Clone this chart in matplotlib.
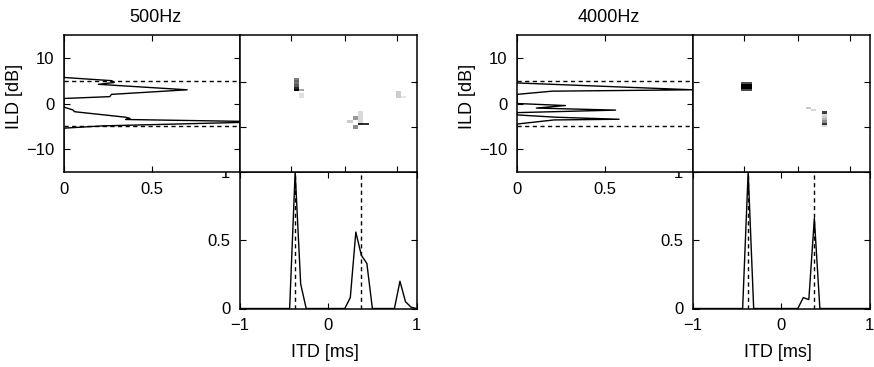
import numpy as np
import matplotlib.pyplot as plt

plt.rcParams['font.family'] = ['Liberation Sans', 'DejaVu Sans']
plt.rcParams['font.size'] = 12

# ILD histograms (ILD in dB, probability), vertices
ild_500 = [15, 5.7, 5.0, 4.6, 4.2, 3.0, 2.0, 1.5, 1.1, -0.8, -1.4, -1.8, -3.0, -3.25, -3.5, -4.0, -4.9, -5.4, -15]
p_ild_500 = [0, 0, 0.27, 0.285, 0.195, 0.70, 0.27, 0.26, 0, 0, 0.05, 0.06, 0.35, 0.375, 0.35, 1.15, 0.22, 0, 0]
ild_4k = [15, 4.5, 3.0, 2.7, 2.0, 0.0, -0.45, -1.0, -1.45, -2.0, -2.5, -3.0, -3.45, -3.6, -4.5, -15]
p_ild_4k = [0, 0, 1.0, 0.2, 0, 0, 0.275, 0.11, 0.56, 0, 0, 0.22, 0.58, 0.21, 0, 0]

# ITD histograms (ITD in ms, probability)
itd_500 = [-1, -0.4375, -0.375, -0.3125, -0.25, 0.1875, 0.25, 0.3125, 0.375, 0.4375, 0.5, 0.75, 0.8125, 0.875, 0.9375, 1]
p_itd_500 = [0, 0, 1.0, 0.18, 0, 0, 0.08, 0.56, 0.39, 0.33, 0, 0, 0.2, 0.05, 0.01, 0]
itd_4k = [-1, -0.4375, -0.375, -0.3125, 0.1875, 0.25, 0.3125, 0.375, 0.4375, 1]
p_itd_4k = [0, 0, 1.0, 0, 0, 0.08, 0.065, 0.66, 0, 0]

# reference positions (dashed lines)
ild_ref = [-5, 5]
itd_ref = [-0.375, 0.375]

# joint ITD/ILD histogram cells: itd, ild, level (1 = black)
hm_itd_500 = [-0.375, -0.375, -0.375, -0.375, -0.375, -0.375, -0.3125, -0.3125, -0.3125,
              0.3125, 0.3125, 0.3125, 0.3125, 0.375, 0.375, 0.375, 0.375, 0.375, 0.375,
              0.4375, 0.25, 0.8125, 0.8125, 0.8125, 0.875]
hm_ild_500 = [5.5, 5.0, 4.5, 4.0, 3.5, 3.0, 3.0, 2.0, 1.5,
              -3.0, -3.5, -5.0, -5.5, -2.0, -2.5, -3.0, -3.5, -4.0, -4.5,
              -4.5, -4.0, 2.5, 2.0, 1.5, 1.5]
hm_val_500 = [0.5, 0.6, 0.55, 0.65, 0.85, 1.0, 0.35, 0.12, 0.12,
              0.4, 0.4, 0.45, 0.45, 0.15, 0.15, 0.15, 0.15, 0.15, 0.85,
              0.8, 0.2, 0.2, 0.2, 0.2, 0.1]

hm_itd_4k = [-0.4375, -0.4375, -0.4375, -0.4375, -0.375, -0.375, -0.375, -0.375,
             0.3125, 0.375, 0.5, 0.5, 0.5, 0.5, 0.5, 0.5, 0.5]
hm_ild_4k = [4.5, 4.0, 3.5, 3.0, 4.5, 4.0, 3.5, 3.0,
             -1.0, -1.5, -2.0, -2.5, -3.0, -3.5, -4.0, -4.5, -5.0]
hm_val_4k = [0.7, 1.0, 1.0, 0.7, 0.7, 1.0, 1.0, 0.7,
             0.22, 0.15, 0.75, 0.15, 0.2, 0.3, 0.45, 0.8, 0.15]

itd_bins = np.arange(-1, 1.0001, 0.0625)
ild_bins = np.arange(-15, 15.0001, 0.5)

W, H = 874, 367


def rect(x0, y0, x1, y1):
    return [x0 / W, 1 - y1 / H, (x1 - x0) / W, (y1 - y0) / H]


def box_ticks(ax):
    ax.tick_params(direction='in', length=4, width=0.8, top=True, right=True, pad=7)
    for s in ax.spines.values():
        s.set_linewidth(1.1)


def panel(x0, title, ild, p_ild, itd, p_itd, hm_itd, hm_ild, hm_val):
    # ITD histogram (bottom right)
    ax_itd = fig.add_axes(rect(x0 + 176, 172, x0 + 352.5, 308.5))
    ax_itd.plot(itd, p_itd, color='k', lw=1.0)
    for v in itd_ref:
        ax_itd.axvline(v, color='k', lw=1.0, ls=(0, (3, 2.5)))
    ax_itd.set_xlim(-1, 1)
    ax_itd.set_ylim(0, 1)
    ax_itd.set_xticks([-1, 0, 1])
    ax_itd.set_xticklabels(['\u22121', '0', '1'])
    ax_itd.set_yticks([0, 0.5, 1])
    ax_itd.set_yticklabels(['0', '0.5', '1'])
    box_ticks(ax_itd)
    ax_itd.set_xlabel('ITD [ms]', fontsize=13)
    ax_itd.xaxis.set_label_coords(0.483, -0.26)

    # ILD histogram (top left)
    ax_ild = fig.add_axes(rect(x0, 35, x0 + 176, 172))
    ax_ild.plot(p_ild, ild, color='k', lw=1.0)
    for v in ild_ref:
        ax_ild.axhline(v, color='k', lw=1.0, ls=(0, (3, 2.5)))
    ax_ild.set_xlim(0, 1)
    ax_ild.set_ylim(-15, 15)
    ax_ild.set_xticks([0, 0.5, 1])
    ax_ild.set_xticklabels(['0', '0.5', ''])
    ax_ild.set_yticks([-10, 0, 10])
    ax_ild.set_yticklabels(['\u221210', '0', '10'])
    box_ticks(ax_ild)
    ax_ild.set_ylabel('ILD [dB]', fontsize=13)
    ax_ild.yaxis.set_label_coords(-0.235, 0.555)
    ax_ild.text(0.52, 1.095, title, transform=ax_ild.transAxes,
                ha='center', va='baseline', fontsize=13)

    # joint histogram (top right)
    ax_hm = fig.add_axes(rect(x0 + 176, 35, x0 + 352.5, 172))
    grid = np.zeros((len(ild_bins), len(itd_bins)))
    for t, l, v in zip(hm_itd, hm_ild, hm_val):
        grid[int(round((l + 15) / 0.5)), int(round((t + 1) / 0.0625))] = v
    ax_hm.imshow(grid, origin='lower', extent=[-1, 1, -15, 15], aspect='auto',
                 cmap='gray_r', vmin=0, vmax=1, interpolation='nearest')
    ax_hm.set_xticks([-0.424, 0.193, 0.784])
    ax_hm.set_yticks([-5.1, 4.6])
    ax_hm.set_xticklabels([])
    ax_hm.set_yticklabels([])
    box_ticks(ax_hm)


fig = plt.figure(figsize=(W / 100, H / 100), dpi=100)
panel(64, '500Hz', ild_500, p_ild_500, itd_500, p_itd_500, hm_itd_500, hm_ild_500, hm_val_500)
panel(517, '4000Hz', ild_4k, p_ild_4k, itd_4k, p_itd_4k, hm_itd_4k, hm_ild_4k, hm_val_4k)

fig.savefig('out.png', dpi=100)
